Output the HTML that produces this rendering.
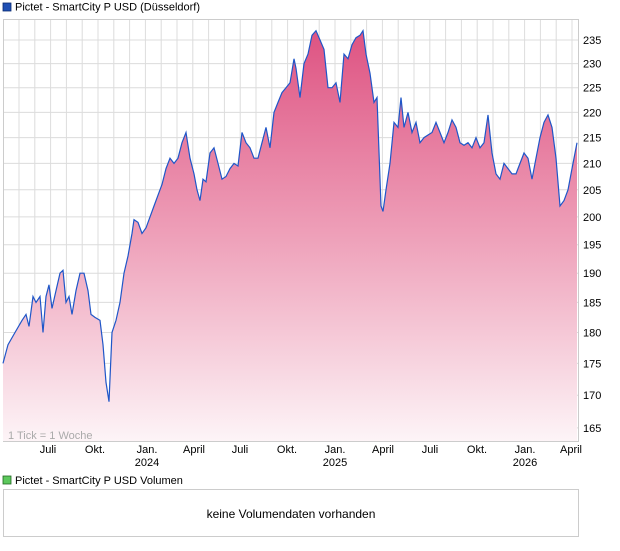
<!DOCTYPE html>
<html><head><meta charset="utf-8"><style>
body{margin:0;background:#fff;font-family:"Liberation Sans",sans-serif;}
svg text{font-family:"Liberation Sans",sans-serif;}
</style></head><body>
<svg width="620" height="546" xmlns="http://www.w3.org/2000/svg">
<defs><linearGradient id="g" x1="0" y1="0" x2="0" y2="1">
<stop offset="0" stop-color="#de5382"/><stop offset="0.5" stop-color="#eea0b9"/><stop offset="1" stop-color="#fdf4f7"/></linearGradient></defs>
<rect x="3" y="3" width="8" height="8" fill="#1f4fb4" stroke="#0a2a70" stroke-width="0.8"/>
<text x="15" y="10.5" font-size="11" fill="#000">Pictet - SmartCity P USD (Düsseldorf)</text>
<g id="grid" stroke="#dcdcdc" stroke-width="1"></g>
<rect x="3.5" y="19.5" width="575" height="422" fill="none" stroke="#ccc"/>
<path id="area" fill="url(#g)"/>
<path id="line" fill="none" stroke="#1f56c8" stroke-width="1.2"/>
<g id="ylab" font-size="11" fill="#000"></g>
<text x="8" y="439" font-size="11" fill="#aaa">1 Tick = 1 Woche</text>
<g font-size="11" fill="#000" text-anchor="middle">
<text x="48" y="453">Juli</text><text x="95" y="453">Okt.</text><text x="147" y="453">Jan.</text><text x="147" y="466">2024</text>
<text x="194" y="453">April</text><text x="240" y="453">Juli</text><text x="287" y="453">Okt.</text><text x="335" y="453">Jan.</text><text x="335" y="466">2025</text>
<text x="383" y="453">April</text><text x="430" y="453">Juli</text><text x="477" y="453">Okt.</text><text x="525" y="453">Jan.</text><text x="525" y="466">2026</text><text x="571" y="453">April</text>
</g>
<rect x="3" y="476" width="8" height="8" fill="#5cc85c" stroke="#226622" stroke-width="0.8"/>
<text x="15" y="484" font-size="11" fill="#000">Pictet - SmartCity P USD Volumen</text>
<rect x="3.5" y="489.5" width="575" height="47" fill="none" stroke="#ccc"/>
<text x="291" y="518" font-size="12" text-anchor="middle" fill="#000">keine Volumendaten vorhanden</text>
</svg>
<script>
const Y=v=>40+(Math.log(235)-Math.log(v))*1097;
let g='';
for(let x=19;x<578;x+=15.8)g+=`<line x1="${x.toFixed(1)}" y1="20" x2="${x.toFixed(1)}" y2="441"/>`;
let yl='';
for(let v=165;v<=235;v+=5){const y=Y(v);g+=`<line x1="4" y1="${y.toFixed(1)}" x2="578" y2="${y.toFixed(1)}"/>`;yl+=`<text x="583" y="${(y+4).toFixed(1)}">${v}</text>`;}
document.getElementById('grid').innerHTML=g;document.getElementById('ylab').innerHTML=yl;
const d=[3,175,8,178,15,180,22,182,26,183,29,181,33,186,36,185,40,186,43,180,46,186,49,188,52,184,56,187,60,190,63,190.5,66,185,69,186,72,183,76,187,80,190,84,190,88,187,91,183,95,182.5,100,182,103,178,106,172,109,169,112,180,116,182,120,185,124,190,128,193,132,197,134,199.5,138,199,142,197,146,198,150,200,154,202,158,204,162,206,166,209,170,211,174,210,178,211,182,214,186,216,190,211,194,208,197,205,200,203,203,207,206,206.5,210,212,214,213,218,210,222,207,226,207.5,230,209,234,210,238,209.5,242,216,246,214,250,213,254,211,258,211,262,214,266,217,270,213,274,220,278,222,282,224,286,225,290,226,294,231,296,229,300,223,304,230,308,232,312,236,316,237,320,235,324,233,328,225,332,225,336,226,340,222,344,232,348,231,352,234,356,235.5,360,236,363,237,366,232,370,228,374,222,377,223,381,202,383,201,386,205,390,210,394,218,398,217,401,223,404,217,408,220,412,216,416,218,420,214,424,215,428,215.5,432,216,436,218,440,216,444,214,448,216,452,218.5,456,217,460,214,464,213.5,468,214,472,213,476,215,480,213,484,214,488,219.5,492,212,496,208,500,207,504,210,508,209,512,208,516,208,520,210,524,212,528,211,532,207,536,211,540,215,544,218,548,219.5,552,217,556,211,560,202,564,203,568,205,572,209,577,214];
let p='';for(let i=0;i<d.length;i+=2)p+=(i?'L':'M')+d[i]+' '+Y(d[i+1]).toFixed(1)+' ';
document.getElementById('line').setAttribute('d',p);
document.getElementById('area').setAttribute('d',p+'L577 441 L3 441 Z');
</script>
</body></html>
